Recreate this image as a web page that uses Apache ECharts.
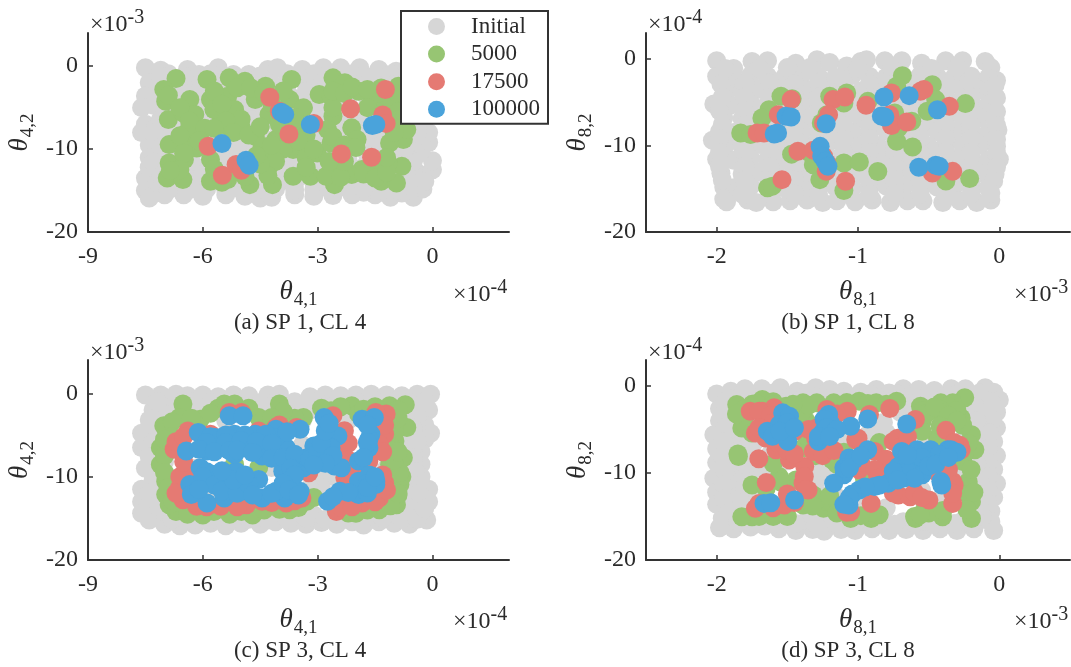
<!DOCTYPE html>
<html><head><meta charset="utf-8"><style>html,body{margin:0;background:#fff}#c{width:1071px;height:667px}</style>
<script src="https://cdn.jsdelivr.net/npm/echarts@6/dist/echarts.min.js"></script></head><body><div id="c"></div>
<script>
const seriesNames=['Initial','5000','17500','100000'];
const seriesColors=['#D6D6D6','#97C573','#E57A73','#4AA3DB'];
const ticksX4=[-9,-6,-3,0], ticksX8=[-2,-1,0], ticksY=[-20,-10,0];

const a_initial=[[-7.5,-.2],[-7.1,-.5],[-6.4,-.4],[-5.6,-.2],[-5.2,-1],[-4.3,-.4],[-4.05,-.2],[-3.4,-.4],[-2.85,-.2],[-2.4,-.2],[-1.9,-.2],[-1.4,-.4],[-.95,-.6],[-.5,-.8],
[-6.9,-.9],[-6.1,-1],[-5.8,-.9],[-4.8,-1],[-3.8,-.9],[-3.1,-.9],[-2.1,-.9],[-1.1,-1],
[-7.4,-2],[-7.5,-3.6],[-7.6,-5],[-7.5,-7],[-7.6,-8],[-7.4,-9.5],[-7.4,-11],[-7.5,-13.5],[-7.5,-15],[-7.4,-15.9],[-7.4,-12.2],
[-7,-15.5],[-6.5,-15.5],[-6,-15.7],[-5.4,-15.5],[-4.9,-15.7],[-4.5,-15.9],[-4.2,-15.8],[-3.6,-15.5],[-3.1,-15.7],[-2.6,-15.6],[-2.1,-15.5],[-1.5,-15.5],[-1.1,-15.8],[-.5,-15.8],[-.8,-15.3],[-1.8,-15.2],
[-.25,-14.8],[-.35,-13],[0,-12.5],[0,-11.4],[-.3,-10.3],[-.1,-9.2],[-.1,-8],[-.3,-6.5],[-.4,-5],
[-7,-2.2],[-6.5,-2.3],[-6.1,-2.1],[-5.6,-2.2],[-5.2,-2.4],[-4.7,-2.2],[-4.2,-2.1],[-3.8,-2.3],[-3.3,-2.2],[-2.9,-2.1],[-2.4,-2.3],[-1.9,-2.2],[-1.5,-2.1],[-1,-2.2],[-.5,-2.3],
[-7.2,-3.9],[-6.8,-4],[-6.3,-3.8],[-5.8,-3.9],[-5.4,-4],[-4.9,-3.8],[-4.5,-3.9],[-4,-4],[-3.6,-3.9],[-3.1,-3.8],[-2.6,-4],[-2.2,-3.9],[-1.7,-3.8],[-1.3,-3.9],[-.8,-4],[-.4,-3.9],
[-7,-5.6],[-6.5,-5.7],[-6.1,-5.5],[-5.6,-5.6],[-5.2,-5.7],[-4.7,-5.6],[-4.2,-5.5],[-3.8,-5.6],[-3.3,-5.7],[-2.9,-5.6],[-2.4,-5.5],[-1.9,-5.6],[-1.5,-5.7],[-1,-5.6],[-.5,-5.5],
[-7.2,-7.3],[-6.8,-7.2],[-6.3,-7.4],[-5.8,-7.3],[-5.4,-7.2],[-4.9,-7.3],[-4.5,-7.4],[-4,-7.3],[-3.6,-7.2],[-3.1,-7.3],[-2.6,-7.4],[-2.2,-7.3],[-1.7,-7.2],[-1.3,-7.3],[-.8,-7.4],[-.4,-7.3],
[-7,-9],[-6.5,-9.1],[-6.1,-8.9],[-5.6,-9],[-5.2,-9.1],[-4.7,-9],[-4.2,-8.9],[-3.8,-9],[-3.3,-9.1],[-2.9,-9],[-2.4,-8.9],[-1.9,-9],[-1.5,-9.1],[-1,-9],[-.5,-8.9],
[-7.2,-10.7],[-6.8,-10.6],[-6.3,-10.8],[-5.8,-10.7],[-5.4,-10.6],[-4.9,-10.7],[-4.5,-10.8],[-4,-10.7],[-3.6,-10.6],[-3.1,-10.7],[-2.6,-10.8],[-2.2,-10.7],[-1.7,-10.6],[-1.3,-10.7],[-.8,-10.8],[-.4,-10.7],
[-7,-12.4],[-6.5,-12.5],[-6.1,-12.3],[-5.6,-12.4],[-5.2,-12.5],[-4.7,-12.4],[-4.2,-12.3],[-3.8,-12.4],[-3.3,-12.5],[-2.9,-12.4],[-2.4,-12.3],[-1.9,-12.4],[-1.5,-12.5],[-1,-12.4],[-.5,-12.3],
[-7.2,-14],[-6.8,-14.1],[-6.3,-13.9],[-5.8,-14],[-5.4,-14.1],[-4.9,-14],[-4.5,-13.9],[-4,-14],[-3.6,-14.1],[-3.1,-14],[-2.6,-13.9],[-2.2,-14],[-1.7,-14.1],[-1.3,-14],[-.8,-13.9],[-.4,-14],
[-6.6,-3.1],[-5.6,-3],[-4.7,-3.1],[-3.8,-3],[-2.9,-3.1],[-1.9,-3],[-6.8,-4.8],[-5.8,-4.8],[-4.9,-4.7],[-4,-4.8],[-3.1,-4.7],[-2.2,-4.8],[-1.3,-4.7],[-6.6,-6.5],[-5.6,-6.4],[-4.7,-6.5],[-3.8,-6.4],[-2.9,-6.5],[-1.9,-6.4],[-1,-6.5],[-6.8,-8.2],[-5.8,-8.1],[-4.9,-8.2],[-4,-8.1],[-3.1,-8.2],[-2.2,-8.1],[-1.3,-8.2],[-.4,-8.1],[-6.6,-9.9],[-5.6,-9.8],[-4.7,-9.9],[-3.8,-9.8],[-2.9,-9.9],[-1.9,-9.8],[-1,-9.9],[-6.8,-11.6],[-5.8,-11.5],[-4.9,-11.6],[-4,-11.5],[-3.1,-11.6],[-2.2,-11.5],[-1.3,-11.6],[-.5,-11.5],[-6.6,-13.2],[-5.6,-13.1],[-4.7,-13.2],[-3.8,-13.1],[-2.9,-13.2],[-1.9,-13.1],[-1,-13.2],[-6.9,-14.9],[-5.9,-14.8],[-5,-14.9],[-4.1,-14.8],[-3.1,-14.9],[-2.2,-14.8],[-1.3,-14.9],[-.6,-14.9],
[-7.1,-1.2],[-6.5,-1.2],[-5.4,-1.3],[-4.5,-1.2],[-3.5,-1.3],[-2.6,-1.2],[-1.6,-1.3],[-.7,-1.5],[-7.2,-3],[-6.1,-3.1],[-5.1,-3],[-4.2,-3],[-3.3,-3.1],[-2.4,-3],[-1.4,-3.1],[-.7,-3.1],[-7.3,-4.7],[-6.2,-4.7],[-5.3,-4.8],[-4.4,-4.7],[-3.5,-4.8],[-2.6,-4.7],[-1.7,-4.8],[-.8,-4.8],[-7.1,-6.4],[-6,-6.5],[-5.1,-6.4],[-4.2,-6.5],[-3.3,-6.4],[-2.4,-6.5],[-1.5,-6.4],[-.7,-6.4],[-7.3,-8.1],[-6.3,-8.2],[-5.4,-8.1],[-4.5,-8.2],[-3.6,-8.1],[-2.6,-8.2],[-1.7,-8.1],[-.8,-8.2],[-7.1,-9.8],[-6,-9.9],[-5.1,-9.8],[-4.2,-9.9],[-3.3,-9.8],[-2.4,-9.9],[-1.5,-9.8],[-.7,-9.8],[-7.3,-11.6],[-6.3,-11.5],[-5.4,-11.6],[-4.5,-11.5],[-3.6,-11.6],[-2.6,-11.5],[-1.7,-11.6],[-.9,-11.6],[-7.1,-13.2],[-6,-13.1],[-5.1,-13.2],[-4.2,-13.1],[-3.3,-13.2],[-2.4,-13.1],[-1.5,-13.2],[-.7,-13.1],[-6.3,-14.8],[-5.4,-14.9],[-4.5,-14.8],[-3.6,-14.9],[-2.7,-14.8],[-1.8,-14.8],[-.9,-14.9],[-.2,-13.9]];
const a_5000=[[-6.70,-1.49],[-7.02,-2.82],[-6.97,-4.23],[-6.34,-4.02],[-6.90,-6.44],[-6.52,-5.63],[-6.21,-5.84],[-5.89,-1.61],[-5.80,-4.02],[-5.31,-1.41],[-4.90,-1.81],[-5.35,-3.62],[-5.17,-5.23],[-5.53,-6.04],[-5.71,-5.23],[-5.35,-7.24],[-4.99,-7.44],[-6.39,-7.85],[-6.88,-9.46],[-6.43,-9.26],[-6.16,-9.86],[-6.88,-11.67],[-6.93,-13.48],[-6.52,-13.68],[-6.48,-11.27],[-5.80,-11.27],[-5.80,-13.88],[-5.35,-13.68],[-4.77,-14.29],[-4.63,-8.45],[-4.45,-9.66],[-4.27,-12.07],[-4.18,-14.29],[-4.36,-2.41],[-4.63,-4.02],[-3.68,-1.61],[-3.73,-4.02],[-3.37,-5.03],[-4.27,-5.84],[-3.55,-7.44],[-3.64,-10.06],[-3.64,-13.28],[-3.19,-13.28],[-3.01,-10.46],[-3.28,-9.66],[-2.96,-3.42],[-2.65,-3.62],[-2.60,-1.41],[-2.29,-2.01],[-1.93,-3.02],[-2.60,-6.04],[-2.74,-7.65],[-2.65,-9.26],[-2.11,-7.44],[-1.97,-8.85],[-2.51,-12.47],[-2.56,-14.29],[-2.11,-13.08],[-2.78,-13.28],[-1.57,-4.02],[-1.34,-2.62],[-.89,-2.41],[-.76,-4.02],[-.80,-7.44],[-1.12,-9.26],[-.76,-8.85],[-.67,-7.65],[-.80,-12.07],[-1.16,-11.67],[-1.34,-13.88],[-.94,-14.08],[-1.84,-12.47],[-1.48,-12.47],[-4.09,-8.85],[-4.36,-10.86],
[-6.9,-3.5],[-6.6,-5],[-6.35,-6.6],[-6.2,-8.4],[-6.6,-8.4],[-5.95,-7.5],[-6.1,-9],[-6.5,-10.5],[-6.6,-12.5],[-6.85,-12.6],[-5.7,-12.4],[-5.5,-14],[-5.7,-3],[-5.1,-2.6],[-4.75,-2.6],[-5.5,-4.6],[-5,-6.4],[-5.4,-6.6],[-5.7,-7.5],[-5.2,-8],[-4.8,-8.3],[-4.5,-7.3],[-4.4,-3.2],[-4.2,-4.5],[-3.9,-3],[-3.6,-6.2],[-3.3,-8.3],[-4,-7],[-3.9,-10],[-4.1,-11.5],[-4.3,-13.2],[-4.2,-9.5],[-3.3,-11],[-3.3,-12.2],[-2.6,-5],[-2.6,-3],[-2.3,-3.3],[-2.1,-2.5],[-2.6,-8.5],[-2.3,-9.5],[-2,-9.8],[-2.4,-13.4],[-2.3,-11.5],[-2.7,-11.5],[-1.8,-13],[-1.5,-13.5],[-1.2,-12.8],[-1.3,-4],[-1,-3.3],[-1.2,-5],[-.9,-5.5],[-.9,-6.5],[-1,-8],[-1.45,-3.3],[-1.7,-2.8],[-1.2,-11],[-1.7,-5],[-3.5,-9],[-4.5,-11.8],[-4.9,-13.3],[-4.6,-10.8],[-3.1,-10]];
const a_17500=[[-4.25,-3.74],[-4.0,-5.43],[-3.75,-8.17],[-3.10,-6.92],[-2.38,-10.58],[-2.14,-5.15],[-1.59,-10.99],[-1.23,-2.82],[-1.30,-5.88],[-1.21,-6.9],[-5.86,-9.66],[-5.49,-13.16],[-5.13,-11.87],[-4.99,-12.56]];
const a_100000=[[-5.50,-9.34],[-4.87,-11.35],[-4.79,-11.95],[-3.95,-5.55],[-3.86,-5.84],[-3.19,-7.04],[-1.57,-7.16],[-1.48,-7.04]];

const b_initial=[[-2,-.2],[-1.88,-1.1],[-1.75,-.3],[-1.64,-.2],[-1.44,-.5],[-1.29,-.1],[-1.2,-.4],[-1.08,-.8],[-.98,-.3],[-.94,-.1],[-.81,-.2],[-.69,-.2],[-.55,-.5],[-.38,-.2],[-.26,-.2],[-.1,-.3],[-.06,-1],
[-2,-2],[-1.88,-2.2],[-1.76,-1.9],[-1.64,-2],[-1.52,-2.1],[-1.4,-1.9],[-1.28,-2],[-1.16,-2.1],[-1.04,-1.9],[-.92,-2],[-.8,-2.1],[-.68,-2],[-.56,-1.9],[-.44,-2],[-.32,-2.1],[-.2,-2],[-.08,-2.2],[-.02,-2.5],
[-1.93,-3.6],[-1.82,-3.7],[-1.7,-3.5],[-1.58,-3.6],[-1.46,-3.7],[-1.34,-3.6],[-1.22,-3.5],[-1.1,-3.6],[-.98,-3.7],[-.86,-3.6],[-.74,-3.5],[-.62,-3.6],[-.5,-3.7],[-.38,-3.6],[-.26,-3.5],[-.14,-3.6],[-.05,-3.7],
[-2.02,-5.2],[-1.9,-5.3],[-1.76,-5.1],[-1.64,-5.2],[-1.52,-5.3],[-1.4,-5.2],[-1.28,-5.1],[-1.16,-5.2],[-1.04,-5.3],[-.92,-5.2],[-.8,-5.1],[-.68,-5.2],[-.56,-5.3],[-.44,-5.2],[-.32,-5.1],[-.2,-5.2],[-.08,-5.3],
[-1.95,-6.8],[-1.82,-6.9],[-1.7,-6.7],[-1.58,-6.8],[-1.46,-6.9],[-1.34,-6.8],[-1.22,-6.7],[-1.1,-6.8],[-.98,-6.9],[-.86,-6.8],[-.74,-6.7],[-.62,-6.8],[-.5,-6.9],[-.38,-6.8],[-.26,-6.7],[-.14,-6.8],[-.03,-6.9],
[-1.98,-8.4],[-1.88,-8.5],[-1.76,-8.3],[-1.64,-8.4],[-1.52,-8.5],[-1.4,-8.4],[-1.28,-8.3],[-1.16,-8.4],[-1.04,-8.5],[-.92,-8.4],[-.8,-8.3],[-.68,-8.4],[-.56,-8.5],[-.44,-8.4],[-.32,-8.3],[-.2,-8.4],[-.08,-8.5],[-.01,-8.2],
[-2.03,-9.4],[-1.94,-10],[-1.82,-10.1],[-1.7,-9.9],[-1.58,-10],[-1.46,-10.1],[-1.34,-10],[-1.22,-9.9],[-1.1,-10],[-.98,-10.1],[-.86,-10],[-.74,-9.9],[-.62,-10],[-.5,-10.1],[-.38,-10],[-.26,-9.9],[-.14,-10],[-.02,-10.1],
[-2,-11.6],[-1.88,-11.7],[-1.76,-11.5],[-1.64,-11.6],[-1.52,-11.7],[-1.4,-11.6],[-1.28,-11.5],[-1.16,-11.6],[-1.04,-11.7],[-.92,-11.6],[-.8,-11.5],[-.68,-11.6],[-.56,-11.7],[-.44,-11.6],[-.32,-11.5],[-.2,-11.6],[-.08,-11.7],[0,-11.6],
[-1.97,-13.2],[-1.82,-13.3],[-1.7,-13.1],[-1.58,-13.2],[-1.46,-13.3],[-1.34,-13.2],[-1.22,-13.1],[-1.1,-13.2],[-.98,-13.3],[-.86,-13.2],[-.74,-13.1],[-.62,-13.2],[-.5,-13.3],[-.38,-13.2],[-.26,-13.1],[-.14,-13.2],[-.03,-13.3],
[-1.95,-14.8],[-1.88,-14.9],[-1.76,-14.7],[-1.64,-14.8],[-1.52,-14.9],[-1.4,-14.8],[-1.28,-14.7],[-1.16,-14.8],[-1.04,-14.9],[-.92,-14.8],[-.8,-14.7],[-.68,-14.8],[-.56,-14.9],[-.44,-14.8],[-.32,-14.7],[-.2,-14.8],[-.08,-14.9],
[-1.95,-16.2],[-1.93,-16.5],[-1.78,-16.3],[-1.72,-16.6],[-1.6,-16.5],[-1.48,-16.4],[-1.36,-16.3],[-1.25,-16.6],[-1.15,-16.4],[-1.02,-16.5],[-.9,-16.3],[-.77,-16.6],[-.65,-16.4],[-.54,-16.4],[-.4,-16.6],[-.28,-16.4],[-.16,-16.6],[-.06,-16.3],
[-1.94,-1.1],[-1.7,-1.1],[-1.5,-1],[-1.34,-1],[-1,-1.1],[-.76,-1.1],[-.48,-1.1],[-.3,-1],[-1.97,-2.9],[-1.8,-2.8],[-1.62,-2.8],[-1.45,-2.9],[-1.28,-2.8],[-1.1,-2.8],[-.92,-2.9],[-.74,-2.8],[-.56,-2.8],[-.38,-2.9],[-.2,-2.8],[-.03,-3],[-1.96,-4.4],[-1.8,-4.4],[-1.62,-4.5],[-1.45,-4.4],[-1.28,-4.4],[-1.1,-4.5],[-.92,-4.4],[-.74,-4.4],[-.56,-4.5],[-.38,-4.4],[-.2,-4.4],[-.02,-4.5],[-1.98,-6],[-1.8,-6],[-1.62,-6.1],[-1.45,-6],[-1.28,-6],[-1.1,-6.1],[-.92,-6],[-.74,-6],[-.56,-6.1],[-.38,-6],[-.2,-6],[-.02,-6.1],[-1.96,-7.6],[-1.8,-7.6],[-1.62,-7.7],[-1.45,-7.6],[-1.28,-7.6],[-1.1,-7.7],[-.92,-7.6],[-.74,-7.6],[-.56,-7.7],[-.38,-7.6],[-.2,-7.6],[-.02,-7.7],[-1.98,-9.2],[-1.8,-9.2],[-1.62,-9.3],[-1.45,-9.2],[-1.28,-9.2],[-1.1,-9.3],[-.92,-9.2],[-.74,-9.2],[-.56,-9.3],[-.38,-9.2],[-.2,-9.2],[-.02,-9.3],[-1.98,-10.8],[-1.8,-10.8],[-1.62,-10.9],[-1.45,-10.8],[-1.28,-10.8],[-1.1,-10.9],[-.92,-10.8],[-.74,-10.8],[-.56,-10.9],[-.38,-10.8],[-.2,-10.8],[-.02,-10.9],[-1.98,-12.4],[-1.8,-12.4],[-1.62,-12.5],[-1.45,-12.4],[-1.28,-12.4],[-1.1,-12.5],[-.92,-12.4],[-.74,-12.4],[-.56,-12.5],[-.38,-12.4],[-.2,-12.4],[-.02,-12.5],[-1.96,-14],[-1.8,-14],[-1.62,-14.1],[-1.45,-14],[-1.28,-14],[-1.1,-14.1],[-.92,-14],[-.74,-14],[-.56,-14.1],[-.38,-14],[-.2,-14],[-.04,-14.1],[-1.82,-15.6],[-1.62,-15.6],[-1.45,-15.6],[-1.28,-15.6],[-1.1,-15.6],[-.92,-15.6],[-.74,-15.6],[-.56,-15.6],[-.38,-15.6],[-.2,-15.6],[-.06,-15.5]];
const b_5000=[[-1.545,-4.32],[-1.466,-4.59],[-1.63,-5.86],[-1.68,-6.82],[-1.83,-8.55],[-1.76,-8.74],[-1.47,-11.0],[-1.20,-4.32],[-1.08,-3.93],[-1.10,-5.09],[-1.22,-6.44],[-1.26,-7.40],[-.93,-4.90],[-.686,-1.93],[-.727,-3.16],[-.474,-2.97],[-.45,-4.70],[-.51,-6.05],[-.74,-6.24],[-.62,-7.20],[-.727,-9.52],[-.614,-10.18],[-1.34,-10.87],[-1.316,-12.22],[-1.10,-12.02],[-.99,-11.9],[-.86,-13.0],[-1.27,-13.95],[-1.10,-15.2],[-1.64,-14.9],[-1.605,-14.7],[-.378,-14.1],[-.21,-13.83],[-.24,-5.16],[-.715,-7.98]];
const b_17500=[[-1.473,-4.70],[-1.564,-6.44],[-1.714,-8.55],[-1.665,-8.55],[-1.425,-10.67],[-1.316,-10.56],[-1.244,-11.25],[-1.22,-12.02],[-1.225,-12.99],[-1.177,-4.70],[-1.093,-4.39],[-1.208,-6.44],[-1.244,-7.40],[-.943,-5.36],[-.763,-3.93],[-.775,-6.44],[-.763,-7.70],[-.655,-7.28],[-.558,-3.74],[-.534,-3.54],[-.354,-5.47],[-.474,-13.18],[-.33,-12.99],[-1.088,-14.14],[-1.538,-13.95]];
const b_100000=[[-1.593,-8.67],[-1.569,-8.55],[-1.509,-6.63],[-1.473,-6.70],[-1.225,-7.48],[-1.268,-10.1],[-1.256,-11.25],[-1.232,-11.83],[-1.213,-12.41],[-.816,-4.39],[-.638,-4.24],[-.835,-6.6],[-.81,-6.7],[-.438,-5.86],[-.57,-12.52],[-.45,-12.29],[-.426,-12.41]];

const c_initial=[[-7.5,-.2],[-7.1,-.2],[-6.7,-.1],[-6.4,-.3],[-6,-.2],[-5.6,-.4],[-5.2,-.2],[-4.8,-.3],[-4.3,-.2],[-4,-.1],[-3.6,-1],[-3.2,-.4],[-2.8,-.2],[-2.4,-.3],[-2,-.2],[-1.6,-.1],[-1.2,-.2],[-.8,-.3],[-.4,-.1],[-.05,-.1],
[-7.3,-2],[-6.9,-1.8],[-6.5,-2.2],[-6,-1.9],[-5.5,-1.8],[-4.8,-1.9],[-4.3,-2],[-3.7,-1.9],[-3.2,-2],[-2.7,-1.8],[-2.2,-1.9],[-1.7,-2],[-1.2,-1.9],[-.9,-1.8],[-.5,-2],[-.1,-2],
[-7.4,-3.2],[-7.6,-4.8],[-7.6,-6.5],[-7.3,-8.3],[-7.3,-9.8],[-7.6,-11.5],[-7.6,-13],[-7.4,-15.2],[-7,-15.7],[-6.6,-15.9],[-6.2,-15.8],[-5.8,-15.6],[-5.4,-15.9],[-5,-15.6],[-4.5,-15.7],[-4.1,-15.4],[-3.7,-15.6],[-3.3,-15.7],[-2.9,-15.5],[-2.5,-15.7],[-2.1,-15.4],[-1.8,-15.8],[-1.4,-15.4],[-1,-15.6],[-.6,-15.7],[-.15,-15.2],
[-.2,-3.8],[-.05,-4.8],[-.2,-5.5],[-.3,-7],[-.3,-8.5],[-.3,-10],[-.1,-11.5],[-.1,-13],[-.3,-14.2],
[-7.1,-3.4],[-7.2,-5],[-7.1,-6.8],[-7,-8.2],[-7.2,-11],[-7.1,-12.6],[-7,-14.2],[-6.6,-14.4],[-6.1,-14.5],[-5.6,-14.4],[-5.1,-14.6],[-4.6,-14.5],[-4.1,-14.3],[-3.6,-14.4],[-3.1,-14.6],[-2.6,-14.5],[-2.1,-14.4],[-1.6,-14.5],[-1.1,-14.4],[-.7,-14.5],
[-.7,-3.5],[-.6,-5],[-.8,-6.3],[-.7,-8.6],[-.6,-10.2],[-.6,-12],[-.7,-13.2],[-.5,-6.6],[-.4,-12.8],
[-2.9,-10.2],[-2.6,-9.9],[-2.4,-11],[-2.9,-11.3],[-3.2,-11.4],[-6.2,-3.2],[-5.4,-3.3],[-4.4,-3.4],[-3.4,-3.3],[-2.2,-3.2],[-1.3,-3.3],[-6,-6],[-5.2,-6.1],[-4.3,-6],[-3.4,-6.2],[-2.4,-6],[-1.6,-6.1],[-6.2,-9],[-5.3,-9.1],[-4.2,-8.9],[-3.5,-9],[-2.1,-9.1],[-1.2,-9],[-5.9,-12],[-5,-12.1],[-4,-12],[-3.2,-12.1],[-1.8,-12],[-1.1,-12.1],
[-7.2,-1],[-6.7,-1.1],[-6.2,-1],[-5.8,-1.1],[-5.3,-1],[-4.5,-1.1],[-4.1,-1],[-3.4,-1.4],[-3,-1],[-2.5,-1.1],[-2,-1],[-1.4,-1.1],[-1,-1],[-.6,-1.1],[-.2,-1],[-6.9,-2.6],[-7.2,-4.2],[-7.3,-5.9],[-7.4,-7.6],[-7.5,-9],[-7.3,-10.4],[-7.4,-12],[-7.3,-13.6],[-7.6,-14.4],[-6.8,-15.1],[-6.3,-15.2],[-5.8,-15.1],[-5.3,-15.2],[-4.8,-15.1],[-4.3,-15.2],[-3.8,-15.1],[-3.3,-15],[-2.8,-15.1],[-2.3,-15.1],[-1.8,-15.1],[-1.3,-15],[-.8,-15.1],[-.4,-15.1],[-.4,-2.8],[-.5,-4.2],[-.4,-5.8],[-.5,-7.8],[-.45,-9.4],[-.3,-11],[-.35,-12],[-.2,-13.8]];
const c_5000=[[-6.52,-1.29],[-5.44,-1.29],[-5.17,-1.29],[-4.0,-1.29],[-2.11,-1.49],[-1.12,-1.49],[-.71,-1.37],[-.67,-4.10],[-.76,-7.73],[-.85,-10.95],[-.94,-13.36],[-1.39,-13.96],[-2.20,-14.37],[-3.73,-13.96],[-3.28,-12.96],[-4.99,-14.17],[-5.71,-14.17],[-6.70,-14.17],[-6.88,-13.36],[-6.97,-10.54],[-7.11,-8.53],[-7.11,-6.52],[-7.02,-3.90],[-6.61,-2.90],[-6.07,-3.10],[-3.37,-2.90],[-2.65,-2.09],[-4.54,-2.90],[-1.93,-2.49],[-.98,-5.71],[-1.12,-8.53],[-2.29,-13.76],[-6.97,-12.15],[-4.54,-8.93],[-5.17,-8.53],[-5.6,-1.8],[-.8,-10],[-.9,-12.2],[-1,-4],[-.95,-9.6],
[-7,-7.5],[-7,-9.5],[-6.9,-11.3],[-6.8,-12.8],[-6.4,-14.5],[-6,-14.6],[-5.3,-14.5],[-4.7,-14.6],[-4.4,-14],[-4,-13.9],[-3.5,-13.7],[-3.1,-12.5],[-2,-14.4],[-1.7,-14],[-1.1,-13.5],[-.9,-12],[-.85,-9.5],[-1,-8],[-.9,-7],[-1,-4.7],[-.9,-3],[-.9,-2],[-1.5,-1.6],[-2.4,-1.6],[-1.8,-1.9],[-2.9,-1.8],[-3.6,-3],[-3.9,-2.2],[-4.2,-2.9],[-5.4,-2],[-4.8,-1.8],[-5.8,-2.4],[-6.3,-3],[-6.8,-3.4],[-6.8,-5.2],[-7,-5.5]];
const c_17500=[[-5.31,-2.29],[-4.99,-2.29],[-6.39,-4.51],[-6.75,-6.72],[-6.34,-9.34],[-6.61,-11.35],[-6.52,-12.76],[-6.16,-13.56],[-5.53,-13.56],[-4.86,-13.36],[-4.45,-12.96],[-3.82,-13.16],[-3.41,-12.56],[-3.23,-9.54],[-2.60,-2.70],[-2.42,-4.91],[-2.38,-6.92],[-2.29,-10.14],[-2.51,-14.17],[-1.84,-13.16],[-1.39,-12.56],[-1.25,-10.74],[-1.25,-4.91],[-1.21,-2.49],[-1.48,-2.29],[-1.39,-6.12],[-4.09,-4.11],[-3.55,-4.11],[-4.54,-4.51],[-5.80,-4.91],[-1.93,-8.93],[-1.66,-8.13],[-2.29,-8.93],
[-6.2,-13.1],[-5.9,-13.6],[-5.1,-13.6],[-4.2,-13.1],[-3.6,-12.9],[-6.6,-10],[-6.7,-12],[-6.7,-5.8],[-6.5,-5.2],[-6.5,-8.2],[-2.2,-6],[-2.3,-4.5],[-2.2,-8],[-2.2,-11],[-2.4,-13.6],[-2.1,-13.6],[-1.5,-13],[-1.2,-11.6],[-1.3,-9.8],[-1.3,-7],[-1.25,-3.8],[-4,-3.8]];
const c_100000=[[-5.31,-2.70],[-4.95,-2.70],[-6.12,-4.71],[-6.43,-6.92],[-5.67,-5.31],[-5.17,-4.91],[-4.63,-4.91],[-4.09,-4.31],[-3.46,-4.31],[-2.83,-2.90],[-1.84,-3.10],[-1.52,-2.90],[-1.61,-4.91],[-1.66,-6.52],[-2.47,-5.11],[-3.10,-6.32],[-2.65,-6.52],[-6.07,-8.93],[-5.53,-6.52],[-4.90,-6.52],[-4.45,-7.53],[-3.82,-6.52],[-3.37,-8.93],[-2.56,-8.73],[-2.38,-8.93],[-1.93,-8.13],[-6.34,-10.95],[-6.30,-12.15],[-5.89,-13.16],[-5.44,-12.56],[-5.71,-9.74],[-5.13,-9.34],[-4.54,-10.34],[-4.45,-12.56],[-3.86,-12.56],[-3.46,-11.75],[-3.91,-9.34],[-3.64,-8.13],[-2.74,-12.96],[-2.42,-11.75],[-1.93,-12.15],[-1.70,-11.95],[-1.93,-10.54],[-1.48,-10.54],[-1.48,-10.95],[-4.36,-6.52],[-5.89,-6.92],[-5.17,-7.32],[-5.35,-10.95],[-4.99,-11.75],[-4.09,-11.75],[-1.66,-5.51],[-4.09,-5.31],[-3.28,-7.73],[-2.92,-7.73],[-5.89,-10.54],
[-5.8,-5.2],[-5.4,-5],[-4.9,-5],[-4.35,-4.9],[-3.8,-4.6],[-5.9,-5.9],[-5.4,-5.9],[-5,-5.7],[-4.6,-5.8],[-4.2,-6],[-6.1,-6.7],[-5.7,-7],[-5.3,-6.9],[-5.1,-6.8],[-4.7,-7.1],[-4.2,-7.8],[-3.9,-7.7],[-3.6,-7.3],[-3.7,-9],[-3.6,-9.8],[-3.2,-7.9],[-3,-7.2],[-2.9,-6],[-2.8,-4.5],[-2.7,-3.6],[-2.6,-7.5],[-2.8,-8.4],[-3.1,-8.6],[-1.7,-3.8],[-1.7,-5.9],[-1.8,-7.7],[-1.65,-9.8],[-1.7,-10.8],[-1.7,-11.3],[-2.2,-11.9],[-2.6,-12.4],[-1.5,-10],[-5.9,-9.4],[-6,-10],[-5.5,-10.7],[-5.7,-11],[-6.1,-11.5],[-5.5,-11.7],[-5.1,-12],[-4.8,-10.9],[-5.2,-10.4],[-4.9,-9.8],[-5.5,-9.3],[-4.2,-12],[-3.9,-10.8],[-3.75,-11.6],[-3.5,-12.2],[-4.7,-12.2]];

const d_initial=[[-2,-.9],[-1.9,-.6],[-1.8,-.3],[-1.68,-.3],[-1.55,-.2],[-1.43,-.6],[-1.3,-.2],[-1.2,-.4],[-1.1,-.6],[-.98,-.7],[-.87,-.4],[-.78,-.8],[-.68,-.3],[-.57,-.4],[-.46,-.5],[-.34,-.3],[-.24,-.3],[-.1,-.2],[-.04,-.7],
[-1.98,-2.6],[-1.98,-4],[-2.02,-5.6],[-2,-7.2],[-2,-8.8],[-2.02,-10.6],[-2,-12.2],[-2,-13.6],[-1.96,-15.2],[-1.98,-16.3],[-1.88,-16.4],[-1.76,-16.2],[-1.66,-16.1],[-1.56,-16.4],[-1.44,-16.6],[-1.32,-16.5],[-1.24,-16.7],[-1.12,-16.5],[-1.02,-16.6],[-.9,-16.4],[-.78,-16.6],[-.66,-16.5],[-.54,-16.6],[-.42,-16.4],[-.3,-16.6],[-.18,-16.4],[-.04,-16.6],
[0,-1.6],[-.02,-3],[-.02,-4.8],[-.04,-6.4],[-.02,-8],[-.04,-9.6],[-.02,-11.2],[-.04,-12.8],[-.06,-14.4],[-.06,-15.6],
[-1.88,-1.4],[-1.76,-1.2],[-1.64,-1.3],[-1.5,-1.3],[-1.38,-1.2],[-1.26,-1.3],[-1.14,-1.2],[-1,-1.3],[-.88,-1.2],[-.76,-1.3],[-.64,-1.2],[-.52,-1.3],[-.4,-1.2],[-.28,-1.3],[-.16,-1.2],
[-1.9,-3],[-1.9,-4.4],[-1.88,-6.2],[-1.9,-7.8],[-1.9,-9.6],[-1.88,-11.2],[-1.9,-12.8],[-1.88,-14],[-1.78,-15.4],[-1.64,-15.4],[-1.5,-15.5],[-1.36,-15.4],[-1.22,-15.6],[-1.08,-15.4],[-.96,-15.5],[-.82,-15.4],[-.68,-15.6],[-.54,-15.5],[-.4,-15.6],[-.26,-15.5],[-.14,-15.4],
[-.1,-3],[-.12,-4.6],[-.12,-6.2],[-.1,-8],[-.14,-9.6],[-.12,-11.2],[-.12,-12.8],[-.12,-14.2],[-.2,-10],[-.2,-12.4],
[-1.72,-3.8],[-1.74,-6.6],[-1.72,-9.4],[-1.74,-12.4],[-1.5,-8.6],[-1.5,-11.4],[-1.36,-6.4],[-1.34,-9.6],[-1.3,-11],[-1.24,-9.4],[-1.2,-10],[-1.18,-8.6],[-1.16,-12.6],[-1.05,-6.4],[-1.02,-8],[-.93,-5.6],[-.86,-5.4],[-.8,-5.4],[-.82,-4.2],[-.6,-3],[-.7,-1.8],[-.52,-6],[-.3,-9.4],[-.4,-12.6],[-.85,-8.8],[-.8,-14],[-.55,-12],[-.25,-11],[-.25,-6],
[-1.78,-14],[-1.82,-8.6],[-1.8,-10.4],[-1.62,-9.6],[-1.62,-7.8],[-1.28,-12.4],[-1.4,-13],[-1.1,-6],[-.9,-13.8],[-.7,-3],[-.62,-2],[-.2,-3],[-.24,-8.2],[-.46,-14.6],[-1,-13.6],[-1.06,-7.2],
[-1.94,-1.8],[-1.96,-3.3],[-1.94,-4.8],[-1.95,-6.4],[-1.96,-8],[-1.94,-9.8],[-1.95,-11.4],[-1.95,-13],[-1.92,-14.6],[-1.85,-15.6],[-1.72,-15.8],[-1.58,-15.8],[-1.44,-15.8],[-1.3,-15.9],[-1.16,-15.8],[-1.02,-15.8],[-.88,-15.8],[-.74,-15.9],[-.6,-15.8],[-.46,-15.9],[-.32,-15.8],[-.2,-15.8],[-.06,-1.8],[-.05,-3.9],[-.07,-5.4],[-.08,-7.2],[-.08,-8.8],[-.08,-10.4],[-.08,-12],[-.08,-13.6],[-.12,-15],[-1.82,-.9],[-1.6,-.8],[-1.36,-.8],[-1.16,-.9],[-.92,-.9],[-.72,-.9],[-.5,-.9],[-.3,-.9],[-.14,-.8],[-1.82,-2.4],[-1.82,-5.2],[-1.78,-7],[-1.8,-9],[-1.8,-12],[-1.82,-13.4],[-.18,-2.2],[-.16,-4],[-.18,-7.2],[-.16,-9],[-.14,-10.8],[-.14,-13.8]];
const d_5000=[[-1.858,-2.12],[-1.822,-4.82],[-1.677,-1.54],[-1.509,-2.31],[-1.389,-1.93],[-1.292,-1.93],[-1.172,-1.93],[-.992,-1.73],[-.871,-1.93],[-.727,-1.73],[-.558,-2.31],[-.546,-4.05],[-.414,-1.93],[-.245,-1.35],[-.330,-1.93],[-.270,-3.66],[-.197,-5.59],[-.173,-7.32],[-.258,-8.67],[-.221,-11.37],[-.197,-13.29],[-.197,-15.22],[-.402,-15.03],[-.594,-15.22],[-.907,-15.22],[-1.052,-15.22],[-1.244,-14.06],[-1.389,-13.68],[-1.569,-14.64],[-1.750,-15.03],[-1.822,-15.03],[-1.846,-8.09],[-1.750,-11.37],[-1.557,-10.41],[-1.365,-4.05],[-1.389,-7.13],[-1.184,-8.48],[-.871,-7.13],[-.522,-13.68],[-.438,-5.97],[-.402,-3.66],[-.546,-5.20],[-.955,-10.60],[-.366,-2.31],[-1.316,-12.52],[-1.196,-13.3],[-1.75,-2.1],[-1.6,-8.9],[-.24,-12.2],
[-1.8,-2.6],[-1.72,-2],[-1.6,-1.8],[-1.8,-4.4],[-1.75,-5.4],[-1.4,-3],[-1.35,-2.2],[-1.36,-5.8],[-1.3,-8],[-1.15,-9],[-.85,-6.5],[-.54,-2.8],[-.52,-3.2],[-.42,-2.7],[-.33,-3],[-.3,-2.8],[-.26,-4.5],[-.22,-6.6],[-.25,-7.8],[-.6,-15],[-.85,-14.8],[-.5,-14.6],[-.22,-11],[-.22,-12.5],[-.23,-14.2],[-1.15,-14.6],[-1.25,-13.2],[-1.3,-13.2],[-1.44,-10.8],[-1.55,-11],[-1.65,-11.8],[-1.7,-15],[-1.6,-15],[-1.5,-15],[-1.85,-7.8],[-.9,-14.5],[-.4,-14.3],[-1.1,-7.6],
[-.46,-2.4],[-.36,-3.4],[-.3,-4],[-.42,-4.6],[-1.6,-2.2],[-1.46,-2.1],[-1.08,-1.9],[-.93,-2],[-.8,-2.1],[-1.86,-3.2],[-.2,-9.6],[-.18,-12.2],[-.56,-14.8],[-.98,-14.9],[-1.32,-13.8],[-1.2,-12.6]];
const d_17500=[[-1.762,-2.89],[-1.677,-2.89],[-1.593,-2.50],[-1.726,-5.39],[-1.653,-5.97],[-1.449,-5.20],[-1.581,-7.32],[-1.485,-8.48],[-1.377,-9.25],[-1.389,-11.18],[-1.353,-11.95],[-1.521,-13.68],[-1.726,-14.06],[-1.702,-8.36],[-1.649,-11.10],[-1.292,-4.82],[-1.232,-7.32],[-1.316,-7.51],[-1.220,-2.70],[-1.076,-2.89],[-1.016,-6.17],[-.919,-3.27],[-.775,-2.58],[-.594,-3.85],[-.751,-6.36],[-.655,-5.97],[-.378,-5.09],[-.270,-7.32],[-.330,-10.98],[-.330,-13.49],[-.498,-13.10],[-.631,-12.72],[-.715,-12.52],[-.907,-13.49],[-1.052,-14.45],[-.787,-9.25],[-.835,-10.21],[-.450,-9.82],[-.992,-9.63],[-.883,-7.51],[-1.56,-6.6],[-1.38,-10.4],
[-1.7,-2.9],[-1.62,-3.4],[-1.6,-4.2],[-1.7,-4.8],[-1.62,-5.6],[-1.53,-6.6],[-1.5,-7.4],[-1.45,-7.8],[-1.35,-5],[-1.3,-6],[-1.25,-8],[-1.17,-7.4],[-1.15,-3.2],[-1.0,-6],[-.98,-8.8],[-1.05,-9.3],[-.72,-6],[-.7,-7],[-.65,-5.8],[-.8,-8.4],[-.88,-9.6],[-.86,-10.6],[-.75,-12.3],[-.6,-12.2],[-.55,-12.8],[-.36,-9.6],[-.32,-11.4],[-.33,-12.3],[-.28,-6.8],[-.32,-6.5],[-1.37,-11.9],[-1.5,-12.4],[-1.45,-13.4],[-1.6,-14],[-1.7,-13.5],[-1.08,-14.5]];
const d_100000=[[-1.533,-3.08],[-1.485,-3.47],[-1.641,-5.20],[-1.605,-5.78],[-1.497,-6.36],[-1.557,-4.43],[-1.208,-3.27],[-1.196,-4.24],[-1.280,-6.36],[-1.244,-5.20],[-1.052,-4.62],[-.931,-3.78],[-.655,-4.35],[-.931,-7.32],[-1.064,-8.28],[-1.028,-8.48],[-1.100,-10.21],[-1.172,-11.18],[-1.064,-13.68],[-.992,-11.94],[-.883,-11.56],[-.787,-11.18],[-.679,-10.60],[-.691,-7.51],[-.582,-7.32],[-.486,-7.32],[-.366,-7.32],[-.342,-7.32],[-.715,-9.25],[-.594,-9.44],[-.546,-10.21],[-.426,-7.90],[-.414,-10.98],[-.407,-11.37],[-1.665,-13.49],[-1.617,-13.41],[-1.449,-13.10],[-.619,-8.28],[-.498,-8.67],[-1.064,-13.1],
[-.65,-8.2],[-.55,-8.2],[-.5,-9.2],[-.65,-9.8],[-.75,-9.8],[-.45,-9],[-.6,-10.6],[-.72,-10.8],[-.85,-11.4],[-.95,-11.6],[-1.04,-12.4],[-1.06,-12.8],[-1.1,-13.6],[-.65,-7.9],[-.3,-7.6],[-.36,-8.2],[-1.24,-3.8],[-1.22,-4.8],[-1.15,-5],[-1.28,-5.8],[-1.2,-5.8],[-1.1,-9.4],[-1.06,-9.4],[-.98,-8],[-1.5,-4.2],[-1.55,-5.2],[-1.45,-4.8]];

const panels=[
 {data:[a_initial,a_5000,a_17500,a_100000],grid:{left:88,top:33,width:421,height:199},x:[-9,2],y:[-20,4],tx:ticksX4,xn:'4,1',yn:'4,2',xe:'-4',ye:'-3',cap:'(a) SP 1, CL 4',cx:300,cy:311,ex:453,eey:278,yex:90,yey:8},
 {data:[b_initial,b_5000,b_17500,b_100000],grid:{left:646,top:33,width:424,height:199},x:[-2.5,.5],y:[-20,3],tx:ticksX8,xn:'8,1',yn:'8,2',xe:'-3',ye:'-4',cap:'(b) SP 1, CL 8',cx:848,cy:311,ex:1014,eey:278,yex:648,yey:8},
 {data:[c_initial,c_5000,c_17500,c_100000],grid:{left:88,top:360,width:421,height:200},x:[-9,2],y:[-20,4],tx:ticksX4,xn:'4,1',yn:'4,2',xe:'-4',ye:'-3',cap:'(c) SP 3, CL 4',cx:300,cy:639,ex:453,eey:605,yex:90,yey:336},
 {data:[d_initial,d_5000,d_17500,d_100000],grid:{left:646,top:360,width:424,height:200},x:[-2.5,.5],y:[-20,3],tx:ticksX8,xn:'8,1',yn:'8,2',xe:'-3',ye:'-4',cap:'(d) SP 3, CL 8',cx:848,cy:639,ex:1014,eey:605,yex:648,yey:336}
];
const FONT='"Liberation Serif","Times New Roman",serif', INK='#2b2b2b', SZ=24;
const nameRich={t:{fontFamily:FONT,fontStyle:'italic',fontSize:27,color:INK,fontWeight:'normal'},s:{fontFamily:FONT,fontSize:19,color:INK,fontWeight:'normal',padding:[18,0,0,1]}};
const expRich={m:{fontFamily:FONT,fontSize:SZ,color:INK,fontWeight:'normal'},s:{fontFamily:FONT,fontSize:20,color:INK,fontWeight:'normal',padding:[0,0,14,0]}};
const axisCommon=(i)=>({gridIndex:i,type:'value',splitLine:{show:false},
 axisLine:{show:true,onZero:false,lineStyle:{color:'#333333',width:2}},
 nameLocation:'middle',nameRotate:0});
const opt={animation:false,backgroundColor:'#fff',grid:[],xAxis:[],yAxis:[],series:[],title:[],
 legend:{show:true,data:seriesNames,left:401,top:11,orient:'vertical',icon:'circle',itemWidth:17,itemHeight:17,itemGap:4.6,
  padding:[4,8,3,27],backgroundColor:'#fff',borderColor:'#333333',borderWidth:2,borderRadius:0,z:50,
  textStyle:{fontFamily:FONT,fontSize:23,color:INK,padding:[0,0,0,21]}}};
panels.forEach((p,i)=>{
 opt.grid.push(p.grid);
 opt.xAxis.push(Object.assign(axisCommon(i),{min:p.x[0],max:p.x[1],
  axisTick:{show:true,inside:true,length:5,lineStyle:{color:'#333333',width:1.5},customValues:p.tx},
  axisLabel:{fontFamily:FONT,fontSize:SZ,color:INK,margin:13,customValues:p.tx,showMaxLabel:true,showMinLabel:true},
  name:`{t|θ}{s|${p.xn}}`,nameGap:41,nameTextStyle:{rich:nameRich}}));
 opt.yAxis.push(Object.assign(axisCommon(i),{min:p.y[0],max:p.y[1],
  axisTick:{show:true,inside:true,length:5,lineStyle:{color:'#333333',width:1.5},customValues:ticksY},
  axisLabel:{fontFamily:FONT,fontSize:SZ,color:INK,margin:10,customValues:ticksY},
  name:`{t|θ}{s|${p.yn}}`,nameRotate:90,nameGap:50,nameTextStyle:{rich:nameRich}}));
 seriesNames.forEach((n,k)=>opt.series.push({type:'scatter',name:n,xAxisIndex:i,yAxisIndex:i,data:p.data[k],symbol:'circle',symbolSize:19,
  itemStyle:{color:seriesColors[k],opacity:1},silent:true,z:2+k}));
 opt.title.push({text:p.cap,left:p.cx,top:p.cy,textAlign:'center',padding:0,textStyle:{fontFamily:FONT,fontSize:23,fontWeight:'normal',color:INK}});
 opt.title.push({text:`{m|×10}{s|${p.xe}}`,left:p.ex,top:p.eey,padding:0,textStyle:{rich:expRich}});
 opt.title.push({text:`{m|×10}{s|${p.ye}}`,left:p.yex,top:p.yey,padding:0,textStyle:{rich:expRich}});
});
echarts.init(document.getElementById('c'),null,{renderer:'canvas'}).setOption(opt);
</script></body></html>
